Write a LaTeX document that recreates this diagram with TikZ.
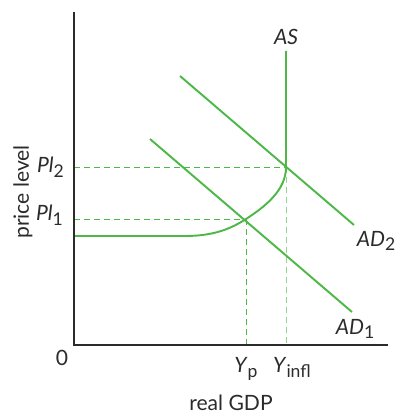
\documentclass[tikz,border=0pt]{standalone}
\usepackage{fontspec}
\setmainfont{Lato}
\usetikzlibrary{positioning}
\definecolor{adGreen}{HTML}{4DB848}
\definecolor{axGray}{HTML}{2B2B2B}
\newcommand{\lowsub}[1]{\raisebox{-0.45ex}{\fontsize{10}{12}\selectfont #1}}
\tikzset{
  curve/.style={draw=adGreen,line width=1.1pt},
  guide/.style={draw=adGreen,line width=0.55pt,dash pattern=on 3.4pt off 2.3pt},
  axis/.style={draw=axGray,line width=1.1pt},
  lbl/.style={font=\fontsize{12}{14}\selectfont,text=axGray,inner sep=1pt}
}

\begin{document}
\begin{tikzpicture}[x=0.02cm,y=-0.02cm]
      \useasboundingbox (0,0) rectangle (395,415);
      % key points
      \coordinate (origin) at (74,345);
      \coordinate (ytop) at (74,12);
      \coordinate (xend) at (388,345);
      \coordinate (e1) at (246,219);
      \coordinate (e2) at (286,167);
      \coordinate (pl1) at (74,219);
      \coordinate (pl2) at (74,167);
      \coordinate (yp) at (246,345);
      \coordinate (yinfl) at (286,345);
      % guides
      \draw[guide] (pl2) -- (e2);
      \draw[guide] (pl1) -- (e1);
      \draw[guide] (e1) -- (yp);
      \draw[guide, draw=adGreen!60] (e2) -- (yinfl);
      % AS
      \draw[curve] (74,236) -- (185,236)
        .. controls (215,236) and (232,228) .. (e1)
        .. controls (266,206) and (286,190) .. (e2) -- (286,51);
      % AD curves
      \draw[curve] (180,76) -- (354,225);
      \draw[curve] (150,139) -- (352,312);
      % axes
      \draw[axis] (ytop) -- (origin) -- (xend);
      % labels
      \node[lbl] (as) at (286,37) {\textit{AS}};
      \node[lbl] (ad2) at (376,241) {\textit{AD}\lowsub{2}};
      \node[lbl] (ad1) at (355,329) {\textit{AD}\lowsub{1}};
      \node[lbl, left=0.16cm of pl2] (pl2lbl) {\textit{Pl}\lowsub{2}};
      \node[lbl, left=0.18cm of pl1, yshift=0.08cm] (pl1lbl) {\textit{Pl}\lowsub{1}};
      \node[lbl] (zero) at (62,358) {0};
      \node[lbl, below=0.2cm of yp] (yplbl) {\textit{Y}\lowsub{p}};
      \node[lbl, below=0.2cm of yinfl, xshift=0.12cm] (yinfllbl) {\textit{Y}\lowsub{infl}};
      \node[lbl] (xlbl) at (231,403) {real GDP};
      \node[lbl, rotate=90] (ylbl) at (23,192) {price level};
    \end{tikzpicture}
\end{document}
